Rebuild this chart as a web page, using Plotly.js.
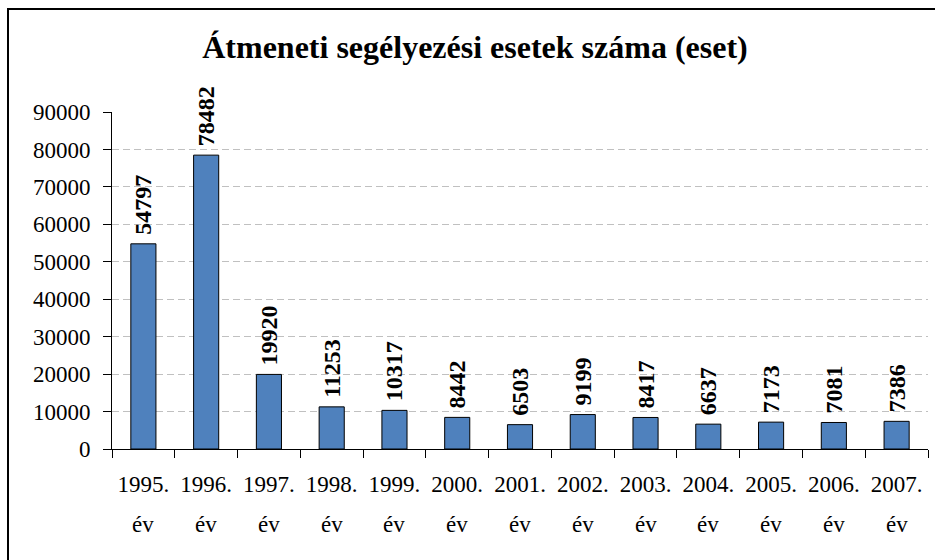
<!DOCTYPE html>
<html>
<head>
<meta charset="utf-8">
<script src="https://cdn.plot.ly/plotly-3.0.1.min.js"></script>
<style>
  html, body { margin: 0; padding: 0; background: #fff; }
  #chart { width: 935px; height: 560px; }
</style>
</head>
<body>
<div id="chart"></div>
<script>
// Átmeneti segélyezési esetek száma, évenként
const years = ['1995.', '1996.', '1997.', '1998.', '1999.', '2000.', '2001.',
               '2002.', '2003.', '2004.', '2005.', '2006.', '2007.'];
const cases = [54797, 78482, 19920, 11253, 10317, 8442, 6503,
               9199, 8417, 6637, 7173, 7081, 7386];
const yearSuffix = 'év';
const chartTitle = 'Átmeneti segélyezési esetek száma (eset)';

const serif = 'Liberation Serif, Times New Roman, serif';

// plot area in pixels (used to place the outer frame in paper units)
const W = 935, H = 560;
const M = { l: 112, r: 7, t: 112, b: 111 };
const pw = W - M.l - M.r, ph = H - M.t - M.b;
const px = x => (x - M.l) / pw;
const py = y => (H - M.b - y) / ph;

const trace = {
  type: 'bar',
  x: years,
  y: cases,
  // a leading no-break space keeps the rotated value a little off the bar top
  text: cases.map(v => '\u00a0' + String(v)),
  textposition: 'outside',
  textangle: -90,
  constraintext: 'none',
  cliponaxis: false,
  outsidetextfont: { family: serif, size: 24, color: '#000', weight: 'bold' },
  marker: { color: '#4F81BD', line: { color: '#000', width: 1 } },
  hoverinfo: 'x+y'
};

// second line of each category label (x given as category index)
const suffixNotes = years.map((y, i) => ({
  x: i, xref: 'x',
  y: py(524), yref: 'paper',
  yanchor: 'middle', xanchor: 'center',
  text: yearSuffix, showarrow: false,
  font: { family: serif, size: 23, color: '#000' }
}));

const layout = {
  width: W, height: H,
  margin: M,
  paper_bgcolor: '#fff',
  plot_bgcolor: '#fff',
  showlegend: false,
  bargap: 0.6,
  title: {
    text: chartTitle,
    x: 0.508, xanchor: 'center',
    y: 1 - 47 / H, yanchor: 'middle', yref: 'container',
    font: { family: serif, size: 32, color: '#000', weight: 'bold' }
  },
  xaxis: {
    type: 'category',
    range: [-0.5, years.length - 0.5],
    showline: true, linecolor: '#000', linewidth: 1,
    ticks: 'outside', tickson: 'boundaries', ticklen: 8, tickcolor: '#000',
    tickangle: 0,
    ticklabelstandoff: 14,
    showgrid: false,
    tickfont: { family: serif, size: 23, color: '#000' }
  },
  yaxis: {
    range: [0, 90000], dtick: 10000, tickformat: 'd',
    showline: true, linecolor: '#000', linewidth: 1,
    ticks: 'outside', ticklen: 8, tickcolor: '#000',
    ticklabelstandoff: 8,
    showgrid: true, gridcolor: '#c0c0c0', gridwidth: 1, griddash: '7px,4px',
    zeroline: false,
    tickfont: { family: serif, size: 23, color: '#000' }
  },
  annotations: suffixNotes,
  shapes: [{
    type: 'path', xref: 'paper', yref: 'paper',
    path: `M ${px(8)} ${py(H + 20)} L ${px(8)} ${py(9)} L ${px(W + 20)} ${py(9)}`,
    line: { color: '#000', width: 2 }
  }]
};

Plotly.newPlot('chart', [trace], layout, { displayModeBar: false, staticPlot: true });
</script>
</body>
</html>
